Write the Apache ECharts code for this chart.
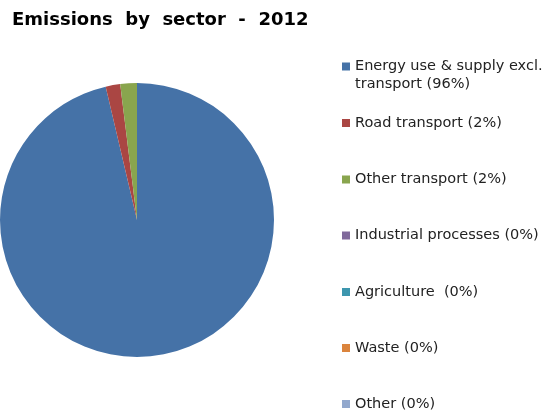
<!DOCTYPE html>
<html>
<head>
<meta charset="utf-8">
<script src="https://cdn.jsdelivr.net/npm/echarts@6/dist/echarts.min.js"></script>
<style>
html,body{margin:0;padding:0;background:#fff;}
#c{width:547px;height:414px;}
</style>
</head>
<body>
<div id="c"></div>
<script>
const title = 'Emissions  by  sector  -  2012';
const categories = [
  'Energy use & supply excl. transport (96%)',
  'Road transport (2%)',
  'Other transport (2%)',
  'Industrial processes (0%)',
  'Agriculture  (0%)',
  'Waste (0%)',
  'Other (0%)'
];
const values = [96.33, 1.71, 1.96, 0, 0, 0, 0];
const colors = ['#4572A7', '#AA4643', '#89A54E', '#80699B', '#3D96AE', '#DB843D', '#92A8CD'];

const legendTops = [39.5, 114, 170.5, 226.5, 283, 339, 395];
const legends = categories.map((name, i) => {
  return {
    data: [name],
    left: 342,
    top: legendTops[i],
    padding: 0,
    orient: 'vertical',
    icon: 'rect',
    itemWidth: 8,
    itemHeight: 8,
    selectedMode: false,
    formatter: n => (i === 0 ? '\n' + n.replace('excl. ', 'excl.\n') : n),
    textStyle: {
      fontFamily: 'DejaVu Sans',
      fontSize: 14.5,
      lineHeight: 18,
      color: '#222'
    }
  };
});

const chart = echarts.init(document.getElementById('c'), null, { renderer: 'canvas' });
chart.setOption({
  animation: false,
  color: colors,
  title: {
    text: title,
    left: 12,
    top: 11,
    padding: 0,
    textStyle: { fontFamily: 'DejaVu Sans', fontSize: 18, fontWeight: 'bold', color: '#000' }
  },
  legend: legends,
  series: [{
    type: 'pie',
    center: [137, 220],
    radius: 137,
    startAngle: 90,
    clockwise: true,
    label: { show: false },
    labelLine: { show: false },
    emphasis: { disabled: true },
    itemStyle: { borderWidth: 0 },
    data: categories.map((n, i) => ({ name: n, value: values[i] }))
  }]
});
</script>
</body>
</html>
